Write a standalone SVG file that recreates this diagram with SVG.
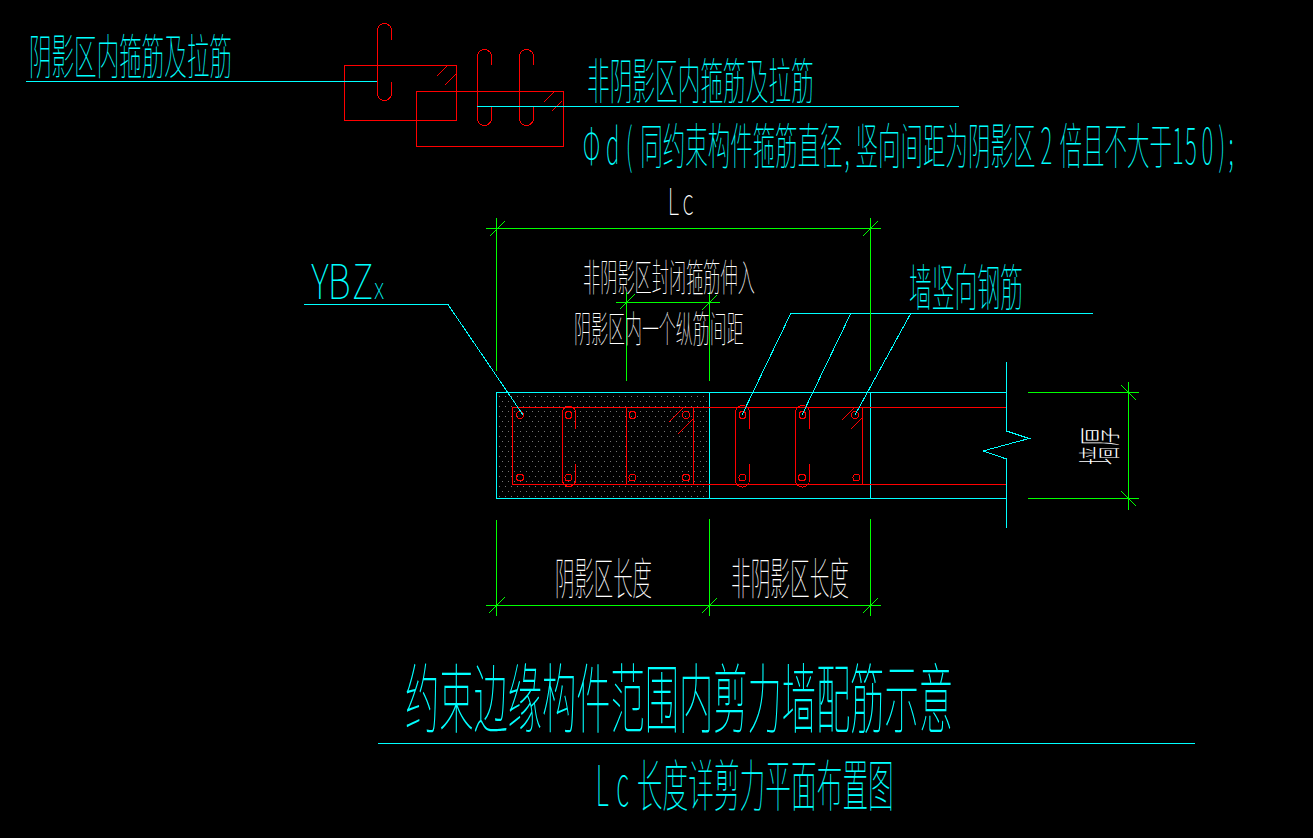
<svg xmlns="http://www.w3.org/2000/svg" width="1313" height="838" viewBox="0 0 1313 838">
<style>
.c{stroke:#00ffff}.r{stroke:#ff0000}.g{stroke:#00ff00}
line,path,rect,circle,polyline{fill:none;stroke-width:1;shape-rendering:crispEdges}
text{font-family:"Noto Sans CJK SC","Noto Sans",sans-serif;font-weight:100}
.tc{fill:#00ffff}.tw{fill:#ffffff}
</style>
<defs>
<pattern id="dots" width="6" height="10" patternUnits="userSpaceOnUse" x="497" y="393">
<rect x="2" y="3" width="1" height="1" style="fill:#747474;stroke:none"/>
<rect x="5" y="8" width="1" height="1" style="fill:#747474;stroke:none"/>
</pattern>
</defs>
<rect width="1313" height="838" style="fill:#000;stroke:none"/>

<g id="detail-left">
<rect class="r" x="344.5" y="65.5" width="112" height="55"/>
<path class="r" d="M391.5 40V30.5A7 7 0 0 0 377.5 30.5V93.5A7 7 0 0 0 391.5 93.5V82"/>
<line class="r" x1="437" y1="76" x2="447" y2="66"/>
<line class="r" x1="445" y1="85" x2="456" y2="74"/>
</g>
<g id="detail-right">
<rect class="r" x="416.5" y="91.5" width="147" height="55"/>
<path class="r" d="M491.5 65V56.5A7 7 0 0 0 477.5 56.5V118.5A7 7 0 0 0 491.5 118.5V106"/>
<path class="r" d="M533.5 65V56.5A7 7 0 0 0 519.5 56.5V118.5A7 7 0 0 0 533.5 118.5V106"/>
<line class="r" x1="544" y1="102" x2="554" y2="92"/>
<line class="r" x1="552" y1="111" x2="562" y2="101"/>
</g>

<g id="wall-section">
<rect x="497" y="393" width="212" height="105" style="fill:url(#dots);stroke:none"/>
<path class="c" d="M1006.5 392.5H496.5V498.5H1006.5"/>
<line class="c" x1="709.5" y1="392" x2="709.5" y2="499"/>
<line class="c" x1="870.5" y1="392" x2="870.5" y2="499"/>
<polyline class="c" points="1006.5,362 1006.5,431 1029,438.5 983,451 1006.5,459 1006.5,528"/>
</g>
<g id="rebar">
<path class="r" d="M1006 407.5H512.5V484.5H1006"/>
<line class="r" x1="626.5" y1="407" x2="626.5" y2="485"/>
<line class="r" x1="693.5" y1="407" x2="693.5" y2="485"/>
<line class="r" x1="862.5" y1="407" x2="862.5" y2="485"/>
<path class="r" d="M575.5 428.5V412.5A6.5 6.5 0 0 0 562.5 412.5V480A6.5 6.5 0 0 0 575.5 480V464"/>
<path class="r" d="M749.5 428.5V412.5A7 7 0 0 0 735.5 412.5V480A7 7 0 0 0 749.5 480V464"/>
<path class="r" d="M809.5 428.5V412.5A7 7 0 0 0 795.5 412.5V480A7 7 0 0 0 809.5 480V464"/>
<line class="r" x1="669" y1="422" x2="683" y2="408"/>
<line class="r" x1="678" y1="434" x2="693" y2="419"/>
<line class="r" x1="842" y1="420" x2="854" y2="408"/>
<line class="r" x1="851" y1="429" x2="862" y2="418"/>
<g>
<circle class="r" cx="520" cy="415" r="3.5"/><circle class="r" cx="568.5" cy="415" r="3.5"/><circle class="r" cx="632.5" cy="415" r="3.5"/><circle class="r" cx="686" cy="415" r="3.5"/>
<circle class="r" cx="520" cy="477.5" r="3.5"/><circle class="r" cx="568.5" cy="477.5" r="3.5"/><circle class="r" cx="632.5" cy="477.5" r="3.5"/><circle class="r" cx="686" cy="477.5" r="3.5"/>
<circle class="r" cx="742.5" cy="415" r="3.5"/><circle class="r" cx="802.5" cy="415" r="3.5"/><circle class="r" cx="855" cy="415" r="3.5"/>
<circle class="r" cx="742.5" cy="477.5" r="3.5"/><circle class="r" cx="802" cy="477.5" r="3.5"/><circle class="r" cx="856.5" cy="477.5" r="3.5"/>
</g>
</g>

<g id="connectors">
<line class="c" x1="26" y1="81.5" x2="377" y2="81.5"/>
<line class="c" x1="477" y1="106.5" x2="959" y2="106.5"/>
<polyline class="c" points="304,304.5 448,304.5 523,415"/>
<line class="c" x1="791" y1="313.5" x2="1093" y2="313.5"/>
<line class="c" x1="791" y1="313" x2="742" y2="415"/>
<line class="c" x1="851" y1="313" x2="802" y2="415"/>
<line class="c" x1="911" y1="313" x2="855" y2="415"/>
<line class="c" x1="378" y1="743.5" x2="1195" y2="743.5"/>
</g>

<g id="dim-lc">
<line class="g" x1="486" y1="228.5" x2="881" y2="228.5"/>
<line class="g" x1="496.5" y1="218" x2="496.5" y2="371"/>
<line class="g" x1="870.5" y1="218" x2="870.5" y2="371"/>
<line class="g" x1="490" y1="236" x2="505" y2="221"/>
<line class="g" x1="863" y1="236" x2="878" y2="221"/>
</g>
<g id="dim-spacing">
<line class="g" x1="616" y1="302.5" x2="720" y2="302.5"/>
<line class="g" x1="626.5" y1="292" x2="626.5" y2="381"/>
<line class="g" x1="709.5" y1="292" x2="709.5" y2="381"/>
<line class="g" x1="620" y1="309" x2="635" y2="294"/>
<line class="g" x1="702" y1="310" x2="717" y2="295"/>
</g>
<g id="dim-bottom">
<line class="g" x1="486" y1="605.5" x2="881" y2="605.5"/>
<line class="g" x1="496.5" y1="520" x2="496.5" y2="616"/>
<line class="g" x1="709.5" y1="519" x2="709.5" y2="616"/>
<line class="g" x1="870.5" y1="519" x2="870.5" y2="616"/>
<line class="g" x1="489" y1="613" x2="505" y2="597"/>
<line class="g" x1="702" y1="613" x2="717" y2="598"/>
<line class="g" x1="863" y1="613" x2="878" y2="598"/>
</g>
<g id="dim-wall">
<line class="g" x1="1028" y1="392.5" x2="1139" y2="392.5"/>
<line class="g" x1="1028" y1="498.5" x2="1139" y2="498.5"/>
<line class="g" x1="1128.5" y1="382" x2="1128.5" y2="510"/>
<line class="g" x1="1121" y1="385" x2="1136" y2="400"/>
<line class="g" x1="1121" y1="491" x2="1136" y2="506"/>
</g>

<g id="labels">
<text class="tc" transform="translate(29,74) scale(.47,1)" font-size="48">阴影区内箍筋及拉筋</text>
<text class="tc" transform="translate(587,99) scale(.463,1)" font-size="49">非阴影区内箍筋及拉筋</text>
<text class="tc" transform="scale(.459,1)" x="1270" y="164" font-size="49" dx="0 13 14 17 0 0 0 0 0 0 0 0 4 13 0 0 0 0 0 0 0 11 16 0 0 0 0 0 3 10 12 7">Φd(同约束构件箍筋直径,竖向间距为阴影区2倍且不大于150);</text>
<text class="tw" transform="scale(.6,1)" x="1113" y="215" font-size="37" dx="0 6">Lc</text>
<text class="tc" transform="scale(.75,1)" x="415" y="299" font-size="48" dx="0 -1 2">YBZ<tspan dx="1" font-size="30">x</tspan></text>
<text class="tc" transform="translate(909,306) scale(.456,1)" font-size="50">墙竖向钢筋</text>
<text class="tw" transform="translate(583,291) scale(.4526,1)" font-size="38">非阴影区封闭箍筋伸入</text>
<text class="tw" transform="translate(574,343) scale(.459,1)" font-size="37">阴影区内一个纵筋间距</text>
<text class="tw" transform="translate(555,595) scale(.441,1)" font-size="44">阴影区长度</text>
<text class="tw" transform="translate(731,595) scale(.447,1)" font-size="44">非阴影区长度</text>
<text class="tw" transform="translate(1116,465) rotate(-90) scale(.432,1)" font-size="44">墙厚</text>
<text class="tc" transform="translate(405,727) scale(.4507,1)" font-size="76">约束边缘构件范围内剪力墙配筋示意</text>
<text class="tc" transform="scale(.459,1)" x="1298" y="806" font-size="56" dx="0 17 17">Lc长度详剪力平面布置图</text>
</g>
</svg>
